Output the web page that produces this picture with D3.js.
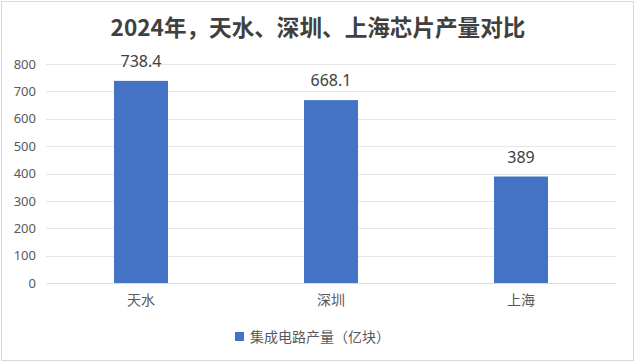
<!DOCTYPE html>
<html>
<head>
<meta charset="utf-8">
<script src="https://cdn.jsdelivr.net/npm/d3@7"></script>
<style>
  body { margin: 0; background: #fff; }
  svg { display: block; font-family: "Noto Sans CJK SC", "Noto Sans", sans-serif; }
</style>
</head>
<body>
<svg id="chart"></svg>
<script>
const categories = ["天水", "深圳", "上海"];
const values = [738.4, 668.1, 389];
const valueLabels = ["738.4", "668.1", "389"];
const yTicks = [0, 100, 200, 300, 400, 500, 600, 700, 800];
const seriesName = "集成电路产量（亿块）";
const title = "2024年，天水、深圳、上海芯片产量对比";

const width = 635, height = 362;
const margin = { top: 64, right: 19, bottom: 79, left: 46 };
const innerW = width - margin.left - margin.right;
const innerH = height - margin.top - margin.bottom;

const svg = d3.select("#chart").attr("width", width).attr("height", height);

// outer frame
svg.append("rect")
  .attr("x", 1.5).attr("y", 1.5)
  .attr("width", width - 3).attr("height", height - 3)
  .attr("fill", "#fff").attr("stroke", "#d9d9d9");

svg.append("text")
  .attr("x", 318).attr("y", 36)
  .attr("text-anchor", "middle")
  .attr("font-size", 22.6).attr("font-weight", "bold")
  .attr("fill", "#404040")
  .text(title);

const g = svg.append("g").attr("transform", `translate(${margin.left},${margin.top})`);

const x = d3.scaleBand().domain(categories).range([0, innerW]).paddingInner(0.716).paddingOuter(0.358);
const y = d3.scaleLinear().domain([0, 800]).range([innerH, 0]);

// gridlines
g.selectAll(".grid")
  .data(yTicks.filter(d => d > 0))
  .enter().append("line")
  .attr("x1", 0).attr("x2", innerW)
  .attr("y1", d => Math.round(y(d)) + 0.5).attr("y2", d => Math.round(y(d)) + 0.5)
  .attr("stroke", "#e6e6e6");

// y axis labels
const yAxis = g.append("g").call(d3.axisLeft(y).tickValues(yTicks).tickSize(0).tickPadding(10));
yAxis.select(".domain").remove();
yAxis.selectAll("text").attr("font-size", 13).attr("fill", "#595959")
  .attr("font-family", "\"Noto Sans\", sans-serif");

// bars
g.selectAll(".bar")
  .data(values)
  .enter().append("rect")
  .attr("class", "bar")
  .attr("x", (d, i) => x(categories[i]))
  .attr("width", x.bandwidth())
  .attr("y", d => y(d))
  .attr("height", d => innerH - y(d))
  .attr("fill", "#4472c4");

// value labels
g.selectAll(".val")
  .data(values)
  .enter().append("text")
  .attr("x", (d, i) => x(categories[i]) + x.bandwidth() / 2)
  .attr("y", d => y(d) - 14)
  .attr("text-anchor", "middle")
  .attr("font-size", 16).attr("fill", "#404040")
  .attr("font-family", "\"Noto Sans\", sans-serif")
  .text((d, i) => valueLabels[i]);

// x axis
const xAxis = g.append("g").attr("transform", `translate(0,${innerH})`)
  .call(d3.axisBottom(x).tickSize(0).tickPadding(12));
xAxis.select(".domain").attr("stroke", "#d9d9d9");
xAxis.selectAll("text").attr("font-size", 14).attr("fill", "#595959")
  .attr("font-family", "\"Noto Sans CJK SC\", sans-serif");

// legend
const leg = svg.append("g").attr("transform", "translate(235,332)");
leg.append("rect").attr("width", 9).attr("height", 9).attr("fill", "#4472c4");
leg.append("text").attr("x", 15).attr("y", 10)
  .attr("font-size", 14).attr("fill", "#595959")
  .text(seriesName);
</script>
</body>
</html>
